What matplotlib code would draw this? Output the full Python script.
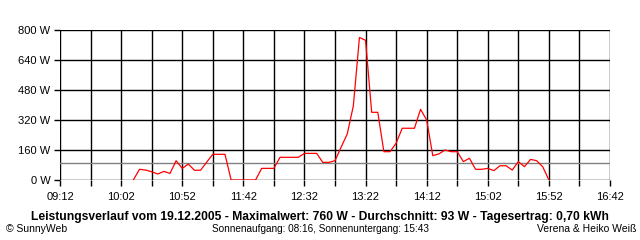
import matplotlib
matplotlib.use("Agg")
import matplotlib.pyplot as plt

zeiten = ["10:12", "10:17", "10:22", "10:27", "10:32", "10:37", "10:42", "10:47",
          "10:52", "10:57", "11:02", "11:07", "11:12", "11:17", "11:22", "11:27",
          "11:32", "11:37", "11:42", "11:47", "11:52", "11:57", "12:02", "12:07",
          "12:12", "12:17", "12:22", "12:27", "12:32", "12:37", "12:42", "12:47",
          "12:52", "12:57", "13:02", "13:07", "13:12", "13:17", "13:22", "13:27",
          "13:32", "13:37", "13:42", "13:47", "13:52", "13:57", "14:02", "14:07",
          "14:12", "14:17", "14:22", "14:27", "14:32", "14:37", "14:42", "14:47",
          "14:52", "14:57", "15:02", "15:07", "15:12", "15:17", "15:22", "15:27",
          "15:32", "15:37", "15:42", "15:47", "15:52"]
leistung = [0, 57, 53, 44, 32, 46, 35, 103,
            62, 85, 52, 52, 95, 137, 137, 137,
            0, 0, 0, 0, 0, 62, 62, 62,
            121, 121, 121, 121, 142, 142, 142, 94,
            94, 103, 175, 245, 395, 760, 745, 361,
            361, 151, 151, 196, 276, 276, 276, 377,
            320, 130, 139, 160, 151, 151, 98, 116,
            57, 57, 62, 50, 76, 76, 53, 98,
            71, 110, 103, 70, 0]
durchschnitt = 93

x_labels = ["09:12", "10:02", "10:52", "11:42", "12:32", "13:22", "14:12", "15:02", "15:52", "16:42"]
y_ticks = [0, 160, 320, 480, 640, 800]

titel = "Leistungsverlauf vom 19.12.2005 - Maximalwert: 760 W - Durchschnitt: 93 W - Tagesertrag: 0,70 kWh"
sonne = "Sonnenaufgang: 08:16, Sonnenuntergang: 15:43"


def minuten(s):
    h, m = s.split(":")
    return int(h) * 60 + int(m)


plt.rcParams['font.family'] = ['Liberation Sans', 'DejaVu Sans']

fig = plt.figure(figsize=(6.4, 2.4), dpi=100)
ax = fig.add_axes([60 / 640, 60 / 240, 550 / 640, 150 / 240])

x = [minuten(t) for t in zeiten]
start = minuten(x_labels[0])
ende = minuten(x_labels[-1])

# Gitter alle 25 Minuten, Beschriftung alle 50 Minuten
grid_x = list(range(start, ende + 1, 25))
for gx in grid_x:
    ax.axvline(gx, color="black", lw=1.0, zorder=1)
for gy in y_ticks:
    ax.axhline(gy, color="black", lw=1.0, zorder=1)

ax.axhline(durchschnitt, color="#808080", lw=1.0, zorder=2)
ax.plot(x, leistung, color="red", lw=0.9, zorder=3)

ax.set_xlim(start, ende)
ax.set_ylim(0, 800)
for s in ax.spines.values():
    s.set_visible(False)

ax.set_xticks(grid_x)
ax.set_xticklabels([lab if i % 2 == 0 else "" for i, lab in
                    enumerate([f"{g // 60:02d}:{g % 60:02d}" for g in grid_x])])
ax.set_yticks(y_ticks)
ax.set_yticklabels([f"{v} W" for v in y_ticks])
ax.tick_params(axis="both", length=4, width=1.0, color="black", labelsize=8)
ax.tick_params(axis="x", pad=5)
ax.tick_params(axis="y", pad=3)

fig.text(0.5, 1 - 217 / 240, titel, ha="center", va="center", fontsize=8.7, fontweight="bold")
fig.text(6 / 640, 1 - 229 / 240, "\u00a9 SunnyWeb", ha="left", va="center", fontsize=7.5)
fig.text(320 / 640, 1 - 229 / 240, sonne, ha="center", va="center", fontsize=7.2)
fig.text(636 / 640, 1 - 229 / 240, "Verena & Heiko Weiß", ha="right", va="center", fontsize=7.5)

fig.savefig("out.png", dpi=100, facecolor="white")
